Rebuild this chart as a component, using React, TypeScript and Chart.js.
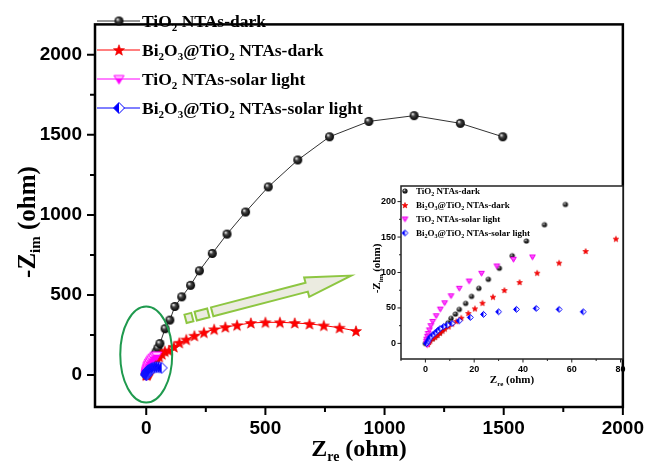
import React, { useEffect, useRef } from 'react';
import { Chart, registerables } from 'chart.js';

Chart.register(...registerables);

const W = 654;
const H = 461;
const SERIF = "'Liberation Serif', 'Times New Roman', Times, serif";
const SANS = "'Liberation Sans', Arial, Helvetica, sans-serif";

// ---- series labels ----
const seriesLabels = ['TiO2 NTAs-dark', 'Bi2O3@TiO2 NTAs-dark', 'TiO2 NTAs-solar light', 'Bi2O3@TiO2 NTAs-solar light'];

// ---- data (ohm) ----
const tiDarkRe = [0, 1.5, 3, 4.5, 5.8, 7, 8.2, 9.3, 10.5, 12.3, 13.9, 16.5, 18.9, 21.9, 25.8, 30.3, 35.6, 41.4, 48.8, 57.4, 79, 99, 120, 149, 186, 223, 277, 339, 417, 512, 636, 769, 934, 1124, 1318, 1496];
const tiDarkIm = [0, 3, 7, 11, 15, 19.5, 24, 29.1, 35.3, 41.4, 48, 56.5, 66.4, 77.7, 90.4, 106, 123.7, 144.5, 167.5, 196, 289, 343, 428, 488, 560, 651, 759, 880, 1018, 1175, 1343, 1488, 1584, 1620, 1572, 1488];

const biDarkRe = [1, 1.5, 2, 3, 4, 5, 6, 7, 8, 9.5, 11, 12.7, 14.7, 17.6, 20.3, 23.4, 27.7, 32.4, 38.6, 45.8, 54.8, 65.7, 78.1, 95, 116, 139, 168, 202, 242, 285, 332, 381, 439, 500, 561, 623, 685, 745, 811, 880];
const biDarkIm = [-1, 2, 4, 7, 9, 12, 15, 18, 21, 24, 28, 31.5, 36.2, 42.8, 49.4, 57.3, 65.8, 75.3, 86.6, 99.7, 113.9, 130.4, 147.7, 152, 175, 201, 221, 245, 265, 285, 299, 311, 325, 329, 329, 325, 319, 309, 295, 275];

const tiLightRe = [0.8, 0.5, 0.4, 0.5, 0.8, 1.1, 1.6, 2.2, 3, 4.4, 6.1, 7.9, 10.5, 13.9, 17.9, 23, 29.3, 36.1, 43.9];
const tiLightIm = [-2, 0, 3, 6, 10, 14, 19, 25, 31, 39, 48.4, 57.3, 67.2, 77.7, 88, 98.9, 109.2, 118.6, 121.9];

const biLightRe = [0.5, 1, 1.5, 2, 3, 4, 5, 6, 7.5, 9, 10.9, 13.9, 18.4, 23.8, 30, 37.3, 45.4, 54.8, 64.7];
const biLightIm = [0, 3, 6, 9, 12, 15, 18, 21, 24, 26, 28.2, 32, 36.7, 41, 44.6, 48, 49.4, 48, 44.6];

// ---- axes ----
const mainXRange = [-215, 2000];
const mainYRange = [-200, 2190];
const mainXMajor = [0, 500, 1000, 1500, 2000];
const mainXMinor = [250, 750, 1250, 1750];
const mainYMajor = [0, 500, 1000, 1500, 2000];
const mainYMinor = [250, 750, 1250, 1750];

const inXRange = [-10, 81];
const inYRange = [-22, 222];
const inXMajor = [0, 20, 40, 60, 80];
const inXMinor = [-10, 10, 30, 50, 70];
const inYMajor = [0, 50, 100, 150, 200];
const inYMinor = [25, 75, 125, 175];

const xTitle = 'Z_{re} (ohm)';
const yTitle = '-Z_{im} (ohm)';

// annotations (data coordinates)
const ellipseCenter = [0, 128];
const ellipseRadii = [109, 300];
const arrowFrom = [165, 351];
const arrowTo = [860, 621];

const pts = (xs: number[], ys: number[]) => xs.map((x, i) => ({ x, y: ys[i] }));

// ---- rich text ----
function parseRich(s: string) {
  const out: { t: string; sub: boolean }[] = [];
  const re = /_\{([^}]*)\}|([A-Za-z])(\d+)/g;
  let last = 0;
  let m: RegExpExecArray | null;
  while ((m = re.exec(s)) !== null) {
    if (m[1] !== undefined) {
      if (m.index > last) out.push({ t: s.slice(last, m.index), sub: false });
      out.push({ t: m[1], sub: true });
    } else {
      out.push({ t: s.slice(last, m.index + 1), sub: false });
      out.push({ t: m[3], sub: true });
    }
    last = re.lastIndex;
  }
  if (last < s.length) out.push({ t: s.slice(last), sub: false });
  return out;
}

function drawRich(ctx: CanvasRenderingContext2D, s: string, x: number, y: number, o: { size: number; sub: number; drop: number; align?: string }) {
  const segs = parseRich(s);
  const font = (sub: boolean) => `bold ${sub ? o.sub : o.size}px ${SERIF}`;
  const widths = segs.map((sg) => {
    ctx.font = font(sg.sub);
    return ctx.measureText(sg.t).width;
  });
  const total = widths.reduce((a, b) => a + b, 0);
  let cx = o.align === 'center' ? x - total / 2 : x;
  ctx.textAlign = 'left';
  ctx.textBaseline = 'alphabetic';
  ctx.fillStyle = '#000';
  segs.forEach((sg, i) => {
    ctx.font = font(sg.sub);
    ctx.fillText(sg.t, cx, sg.sub ? y + o.drop : y);
    cx += widths[i];
  });
}

// ---- marker images ----
function mk(size: number, draw: (g: CanvasRenderingContext2D, c: number) => void) {
  const c = document.createElement('canvas');
  c.width = size;
  c.height = size;
  const g = c.getContext('2d')!;
  draw(g, size / 2);
  return c;
}
function sphere(r: number) {
  return mk(Math.ceil(2 * r + 2), (g, c) => {
    const grad = g.createRadialGradient(c - r * 0.35, c - r * 0.38, r * 0.08, c, c, r);
    grad.addColorStop(0, '#f2f2f2');
    grad.addColorStop(0.35, '#444');
    grad.addColorStop(1, '#000');
    g.fillStyle = grad;
    g.beginPath();
    g.arc(c, c, r, 0, Math.PI * 2);
    g.fill();
  });
}
function star(r: number) {
  return mk(Math.ceil(2 * r + 2), (g, c) => {
    g.beginPath();
    for (let i = 0; i < 10; i++) {
      const rr = i % 2 === 0 ? r : r * 0.42;
      const a = -Math.PI / 2 + (i * Math.PI) / 5;
      const px = c + rr * Math.cos(a);
      const py = c + 0.5 + rr * Math.sin(a);
      if (i === 0) g.moveTo(px, py);
      else g.lineTo(px, py);
    }
    g.closePath();
    g.fillStyle = '#ff0000';
    g.fill();
    g.strokeStyle = '#e00000';
    g.lineWidth = 0.6;
    g.stroke();
  });
}
function triDown(r: number, topFill: string, botFill: string, stroke: string) {
  return mk(Math.ceil(2 * r + 3), (g, c) => {
    const path = () => {
      g.beginPath();
      g.moveTo(c - r, c - r * 0.7);
      g.lineTo(c + r, c - r * 0.7);
      g.lineTo(c, c + r);
      g.closePath();
    };
    path();
    g.fillStyle = botFill;
    g.fill();
    g.save();
    path();
    g.clip();
    g.fillStyle = topFill;
    g.fillRect(0, 0, 2 * c, c - r * 0.15);
    g.restore();
    path();
    g.strokeStyle = stroke;
    g.lineWidth = 1;
    g.stroke();
  });
}
function halfDiamond(r: number) {
  return mk(Math.ceil(2 * r + 3), (g, c) => {
    const path = () => {
      g.beginPath();
      g.moveTo(c, c - r);
      g.lineTo(c + r, c);
      g.lineTo(c, c + r);
      g.lineTo(c - r, c);
      g.closePath();
    };
    path();
    g.fillStyle = '#fff';
    g.fill();
    g.save();
    path();
    g.clip();
    g.fillStyle = '#0000ff';
    g.fillRect(0, 0, c, 2 * c);
    g.restore();
    path();
    g.strokeStyle = '#0000ff';
    g.lineWidth = 1;
    g.stroke();
  });
}

function axisTickCfg(size: number, padding: number) {
  return {
    color: '#000',
    font: { family: SANS, size, weight: 'bold' as const },
    padding,
    autoSkip: false,
    maxRotation: 0,
    callback: (v: any) => String(v),
  };
}

export default function App() {
  const mainRef = useRef<HTMLCanvasElement>(null);
  const insetRef = useRef<HTMLCanvasElement>(null);

  useEffect(() => {
    const mainMarkers = [sphere(4.5), star(5.8), triDown(5, '#ffd0ff', '#ff00ff', '#ff00ff'), halfDiamond(5.5)];
    const inMarkers = [sphere(2.6), star(3), triDown(2.8, '#ff66ff', '#ff33ff', '#ee00ee'), halfDiamond(3)];
    const lineColors = ['#333333', '#ff0000', '#ff00ff', '#0000ff'];
    const seriesData = [pts(tiDarkRe, tiDarkIm), pts(biDarkRe, biDarkIm), pts(tiLightRe, tiLightIm), pts(biLightRe, biLightIm)];
    const orders = [3, 2, 1, 0];

    const mainDecor = {
      id: 'mainDecor',
      beforeDraw(chart: any) {
        const ctx = chart.ctx;
        ctx.save();
        ctx.fillStyle = '#fff';
        ctx.fillRect(0, 0, chart.width, chart.height);
        ctx.restore();
      },
      afterDraw(chart: any) {
        const { ctx, chartArea: a } = chart;
        const x = chart.scales.x;
        const y = chart.scales.y;
        ctx.save();
        // ellipse
        const ecx = x.getPixelForValue(ellipseCenter[0]);
        const ecy = y.getPixelForValue(ellipseCenter[1]);
        const erx = Math.abs(x.getPixelForValue(ellipseCenter[0] + ellipseRadii[0]) - ecx);
        const ery = Math.abs(y.getPixelForValue(ellipseCenter[1] + ellipseRadii[1]) - ecy);
        ctx.strokeStyle = '#1f9a4e';
        ctx.lineWidth = 2;
        ctx.beginPath();
        ctx.ellipse(ecx, ecy, erx, ery, 0, 0, Math.PI * 2);
        ctx.stroke();
        // arrow
        const p0 = [x.getPixelForValue(arrowFrom[0]), y.getPixelForValue(arrowFrom[1])];
        const p1 = [x.getPixelForValue(arrowTo[0]), y.getPixelForValue(arrowTo[1])];
        const L = Math.hypot(p1[0] - p0[0], p1[1] - p0[1]);
        const u = [(p1[0] - p0[0]) / L, (p1[1] - p0[1]) / L];
        const n = [-u[1], u[0]];
        const P = (s: number, t: number) => [p0[0] + u[0] * s + n[0] * t, p0[1] + u[1] * s + n[1] * t];
        const poly = (list: number[][]) => {
          ctx.beginPath();
          list.forEach((q, i) => {
            const pp = P(q[0], q[1]);
            if (i === 0) ctx.moveTo(pp[0], pp[1]);
            else ctx.lineTo(pp[0], pp[1]);
          });
          ctx.closePath();
          ctx.fill();
          ctx.stroke();
        };
        ctx.fillStyle = '#ebebe0';
        ctx.strokeStyle = '#8dc641';
        ctx.lineWidth = 2;
        ctx.lineJoin = 'miter';
        const hb = L - 46;
        poly([[0, -4.3], [7, -4.3], [7, 4.3], [0, 4.3]]);
        poly([[10.5, -4.5], [23.5, -4.5], [23.5, 4.5], [10.5, 4.5]]);
        poly([[27.5, -4.6], [hb, -4.6], [hb, -10], [L, 0], [hb, 10], [hb, 4.6], [27.5, 4.6]]);
        // frame
        ctx.strokeStyle = '#000';
        ctx.lineWidth = 2.5;
        ctx.strokeRect(a.left, a.top, a.right - a.left, a.bottom - a.top);
        // ticks
        ctx.lineWidth = 2;
        ctx.beginPath();
        mainXMajor.forEach((v) => { const p = x.getPixelForValue(v); ctx.moveTo(p, a.bottom); ctx.lineTo(p, a.bottom + 8); });
        mainXMinor.forEach((v) => { const p = x.getPixelForValue(v); ctx.moveTo(p, a.bottom); ctx.lineTo(p, a.bottom + 5); });
        mainYMajor.forEach((v) => { const p = y.getPixelForValue(v); ctx.moveTo(a.left, p); ctx.lineTo(a.left - 8, p); });
        mainYMinor.forEach((v) => { const p = y.getPixelForValue(v); ctx.moveTo(a.left, p); ctx.lineTo(a.left - 5, p); });
        ctx.stroke();
        // axis titles
        drawRich(ctx, xTitle, (a.left + a.right) / 2, 456, { size: 24, sub: 14, drop: 5, align: 'center' });
        ctx.save();
        ctx.translate(35, 222);
        ctx.rotate(-Math.PI / 2);
        drawRich(ctx, yTitle, 0, 0, { size: 25, sub: 15, drop: 5, align: 'center' });
        ctx.restore();
        // legend
        const rows = [21, 50, 79, 108];
        rows.forEach((ry, i) => {
          ctx.strokeStyle = lineColors[i];
          ctx.lineWidth = 1;
          ctx.beginPath();
          ctx.moveTo(97, ry);
          ctx.lineTo(140, ry);
          ctx.stroke();
          const img = mainMarkers[i];
          ctx.drawImage(img, 119 - img.width / 2, ry - img.height / 2);
          drawRich(ctx, seriesLabels[i], 142, ry + 6, { size: 17.5, sub: 11, drop: 4 });
        });
        ctx.restore();
      },
    };

    const main = new Chart(mainRef.current!, {
      type: 'scatter',
      data: {
        datasets: seriesData.map((d, i) => ({
          label: seriesLabels[i],
          data: d,
          showLine: true,
          borderColor: lineColors[i],
          borderWidth: 1,
          pointStyle: mainMarkers[i] as any,
          pointRadius: 5,
          order: orders[i],
        })),
      },
      options: {
        responsive: false,
        animation: false,
        layout: { padding: { left: 0, top: 12, right: 22, bottom: 0 } },
        plugins: { legend: { display: false }, tooltip: { enabled: false } },
        scales: {
          x: {
            type: 'linear',
            min: mainXRange[0],
            max: mainXRange[1],
            afterFit: (s: any) => { s.height = 54; },
            afterBuildTicks: (s: any) => { s.ticks = mainXMajor.map((v) => ({ value: v })); },
            grid: { display: false, drawTicks: false },
            border: { display: false },
            ticks: axisTickCfg(19, 10),
          },
          y: {
            type: 'linear',
            min: mainYRange[0],
            max: mainYRange[1],
            afterFit: (s: any) => { s.width = 95; },
            afterBuildTicks: (s: any) => { s.ticks = mainYMajor.map((v) => ({ value: v })); },
            grid: { display: false, drawTicks: false },
            border: { display: false },
            ticks: axisTickCfg(19, 13),
          },
        },
      } as any,
      plugins: [mainDecor],
    });

    const insetDecor = {
      id: 'insetDecor',
      beforeDatasetsDraw(chart: any) {
        const { ctx, chartArea: a } = chart;
        ctx.save();
        ctx.fillStyle = '#fff';
        ctx.fillRect(a.left, a.top, a.right - a.left, a.bottom - a.top);
        ctx.restore();
      },
      beforeDraw(chart: any) {
        const { ctx, chartArea: a } = chart;
        ctx.save();
        ctx.fillStyle = '#fff';
        ctx.fillRect(a.left, a.top, a.right - a.left, a.bottom - a.top);
        ctx.restore();
      },
      afterDraw(chart: any) {
        const { ctx, chartArea: a } = chart;
        const x = chart.scales.x;
        const y = chart.scales.y;
        ctx.save();
        ctx.strokeStyle = '#222';
        ctx.lineWidth = 1.5;
        ctx.strokeRect(a.left, a.top, a.right - a.left, a.bottom - a.top);
        ctx.lineWidth = 1;
        ctx.beginPath();
        inXMajor.forEach((v) => { const p = x.getPixelForValue(v); ctx.moveTo(p, a.bottom); ctx.lineTo(p, a.bottom + 3.5); });
        inXMinor.forEach((v) => { const p = x.getPixelForValue(v); ctx.moveTo(p, a.bottom); ctx.lineTo(p, a.bottom + 2); });
        inYMajor.forEach((v) => { const p = y.getPixelForValue(v); ctx.moveTo(a.left, p); ctx.lineTo(a.left - 3.5, p); });
        inYMinor.forEach((v) => { const p = y.getPixelForValue(v); ctx.moveTo(a.left, p); ctx.lineTo(a.left - 2, p); });
        ctx.stroke();
        drawRich(ctx, xTitle, (a.left + a.right) / 2, 383, { size: 11, sub: 7, drop: 2.5, align: 'center' });
        ctx.save();
        ctx.translate(380, (a.top + a.bottom) / 2 - 4);
        ctx.rotate(-Math.PI / 2);
        drawRich(ctx, yTitle, 0, 0, { size: 11, sub: 7, drop: 2.5, align: 'center' });
        ctx.restore();
        const rows = [191, 205, 219, 233];
        rows.forEach((ry, i) => {
          const img = inMarkers[i];
          ctx.drawImage(img, 405 - img.width / 2, ry - img.height / 2);
          drawRich(ctx, seriesLabels[i], 416, ry + 3, { size: 9, sub: 6, drop: 2 });
        });
        ctx.restore();
      },
    };

    const inset = new Chart(insetRef.current!, {
      type: 'scatter',
      data: {
        datasets: seriesData.map((d, i) => ({
          label: seriesLabels[i],
          data: d.filter((p) => p.x <= inXRange[1] && p.y <= inYRange[1]),
          showLine: false,
          pointStyle: inMarkers[i] as any,
          pointRadius: 3,
          order: orders[i],
        })),
      },
      options: {
        responsive: false,
        animation: false,
        layout: { padding: { left: 361, top: 186, right: 31, bottom: 82 } },
        plugins: { legend: { display: false }, tooltip: { enabled: false } },
        scales: {
          x: {
            type: 'linear',
            min: inXRange[0],
            max: inXRange[1],
            afterFit: (s: any) => { s.height = 20; },
            afterBuildTicks: (s: any) => { s.ticks = inXMajor.map((v) => ({ value: v })); },
            grid: { display: false, drawTicks: false },
            border: { display: false },
            ticks: axisTickCfg(9, 5),
          },
          y: {
            type: 'linear',
            min: inYRange[0],
            max: inYRange[1],
            afterFit: (s: any) => { s.width = 40; },
            afterBuildTicks: (s: any) => { s.ticks = inYMajor.map((v) => ({ value: v })); },
            grid: { display: false, drawTicks: false },
            border: { display: false },
            ticks: axisTickCfg(9, 5),
          },
        },
      } as any,
      plugins: [insetDecor],
    });

    return () => {
      main.destroy();
      inset.destroy();
    };
  }, []);

  return (
    <div style={{ position: 'fixed', left: 0, top: 0, width: W, height: H, background: '#fff' }}>
      <canvas ref={mainRef} width={W} height={H} style={{ position: 'absolute', left: 0, top: 0 }} />
      <canvas ref={insetRef} width={W} height={H} style={{ position: 'absolute', left: 0, top: 0 }} />
    </div>
  );
}
